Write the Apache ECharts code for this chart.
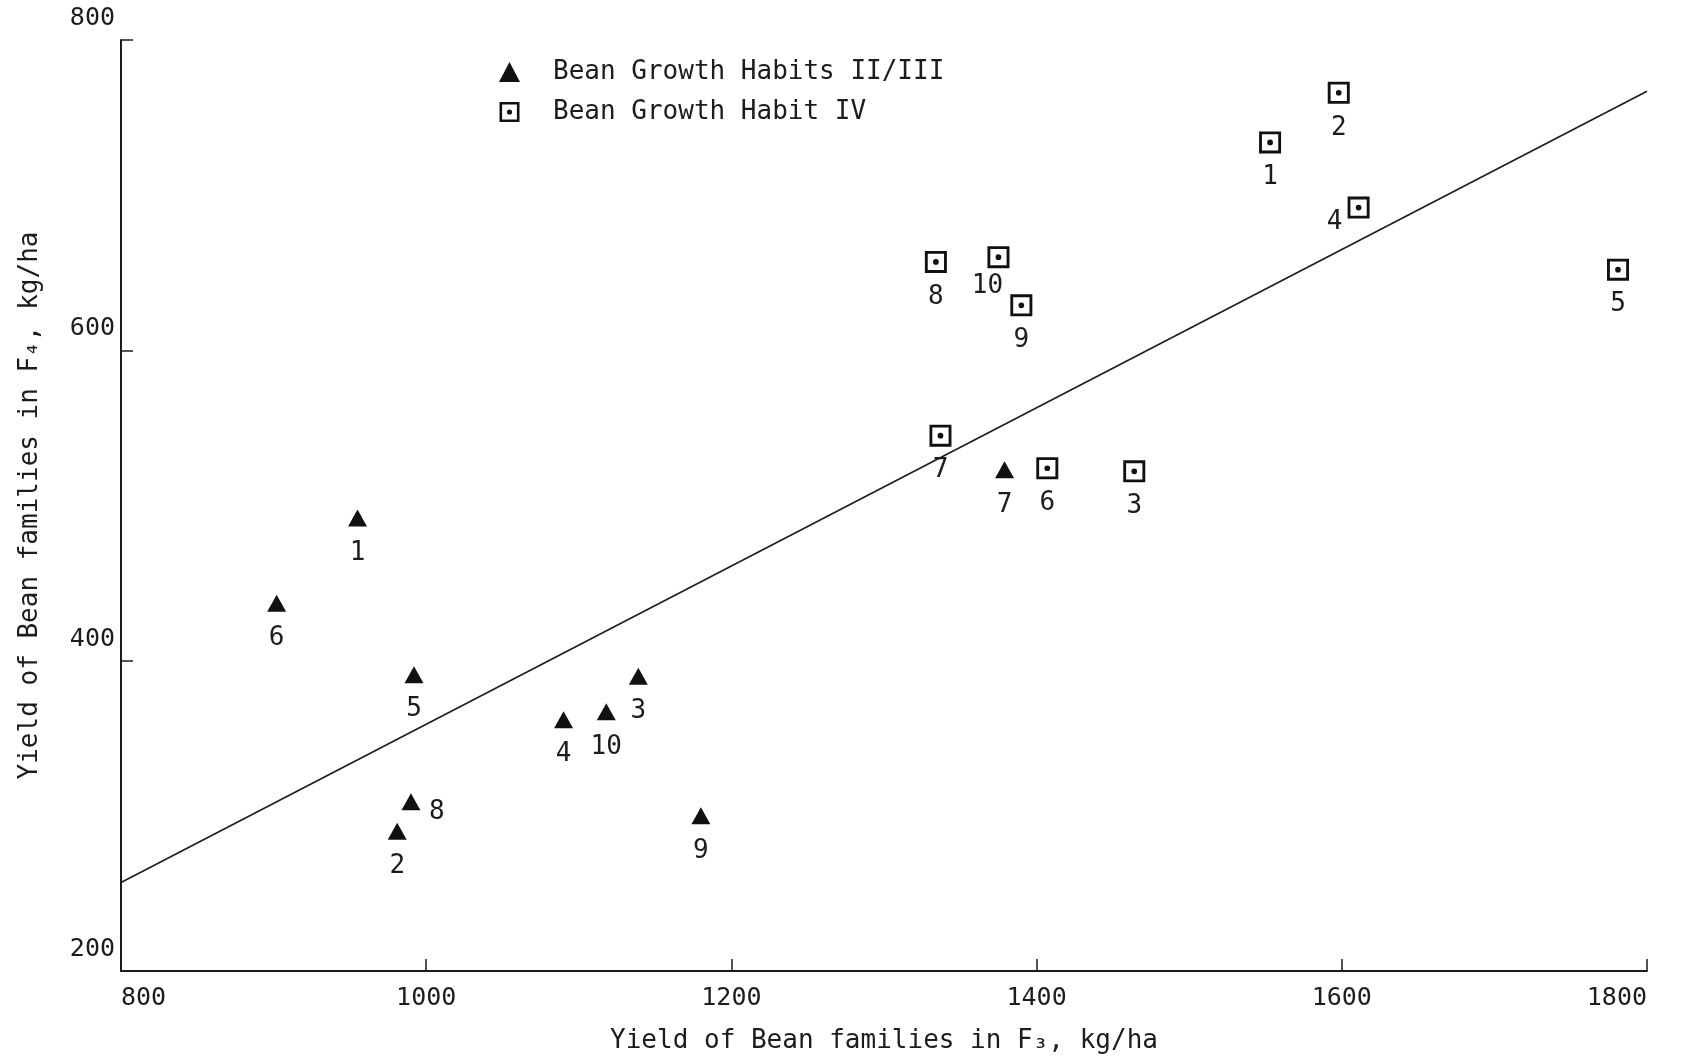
<!DOCTYPE html>
<html>
<head>
<meta charset="utf-8">
<script src="https://cdn.jsdelivr.net/npm/echarts@6/dist/echarts.min.js"></script>
<style>html,body{margin:0;padding:0;background:#fff;}#c{width:1681px;height:1060px;}</style>
</head>
<body>
<div id="c"></div>
<script>
// ---- data ----
const xTicks = [800, 1000, 1200, 1400, 1600, 1800];
const yTicks = [200, 400, 600, 800];

const triLabels = ['1', '2', '3', '4', '5', '6', '7', '8', '9', '10'];
const triX = [955, 981, 1139, 1090, 992, 902, 1379, 990, 1180, 1118];
const triY = [492, 290, 390, 362, 391, 437, 523, 309, 300, 367];

const sqLabels = ['1', '2', '3', '4', '5', '6', '7', '8', '9', '10'];
const sqX = [1553, 1598, 1464, 1611, 1781, 1407, 1337, 1334, 1390, 1375];
const sqY = [734, 766, 522, 692, 652, 524, 545, 657, 629, 660];

const fitX = [800, 1800];
const fitY = [257, 767];

const seriesNames = ['Bean Growth Habits II/III', 'Bean Growth Habit IV'];
const xName = 'Yield of Bean families in F\u2083, kg/ha';
const yName = 'Yield of Bean families in F\u2084, kg/ha';

// ---- label placement (layout only) ----
const defaultOffset = [0, 35];
const triOffsets = { '8': [26, 10] };
const sqOffsets = { '4': [-24, 15], '10': [-11, 29] };

const FONT = '"DejaVu Sans Mono", monospace';
const INK = '#1c1c1c';

function buildPoints(xs, ys, labels, offsets) {
  return xs.map((x, i) => ({
    value: [x, ys[i]],
    name: labels[i],
    label: { offset: offsets[labels[i]] || defaultOffset }
  }));
}

const squareDot = 'path://M0,0H20V20H0Z M2.6,2.6V17.4H17.4V2.6Z M7.4,10a2.6,2.6 0 1,0 5.2,0a2.6,2.6 0 1,0 -5.2,0Z';

const chart = echarts.init(document.getElementById('c'), null, { renderer: 'canvas' });
chart.setOption({
  backgroundColor: '#fff',
  animation: false,
  grid: { left: 121, right: 34, top: 40, bottom: 89 },
  legend: {
    data: seriesNames,
    orient: 'vertical',
    left: 494,
    top: 54,
    itemWidth: 21,
    itemHeight: 20,
    itemGap: 14,
    textStyle: { fontFamily: FONT, fontSize: 26, color: INK, padding: [0, 0, 0, 28] }
  },
  xAxis: {
    type: 'value',
    min: xTicks[0], max: xTicks[xTicks.length - 1], interval: 200,
    name: xName, nameLocation: 'middle', nameGap: 57,
    nameTextStyle: { fontFamily: FONT, fontSize: 26, color: INK },
    axisLine: { lineStyle: { color: INK, width: 2 } },
    axisTick: { inside: true, length: 12, lineStyle: { color: INK, width: 1.5 } },
    splitLine: { show: false },
    axisLabel: { fontFamily: FONT, fontSize: 25, color: INK, margin: 15, alignMinLabel: 'left', alignMaxLabel: 'right',
      formatter: v => String(v) }
  },
  yAxis: {
    type: 'value',
    min: yTicks[0], max: yTicks[yTicks.length - 1], interval: 200,
    name: yName, nameLocation: 'middle', nameRotate: 90, nameGap: 78,
    nameTextStyle: { fontFamily: FONT, fontSize: 26, color: INK },
    axisLine: { lineStyle: { color: INK, width: 2 } },
    axisTick: { inside: true, length: 12, lineStyle: { color: INK, width: 1.5 } },
    splitLine: { show: false },
    axisLabel: { fontFamily: FONT, fontSize: 25, color: INK, margin: 6, verticalAlign: 'bottom', padding: [0, 0, 9, 0],
      formatter: v => String(v) }
  },
  series: [
    {
      type: 'line',
      data: fitX.map((x, i) => [x, fitY[i]]),
      symbol: 'none',
      silent: true,
      lineStyle: { color: INK, width: 1.6 },
      z: 1
    },
    {
      name: seriesNames[0],
      type: 'scatter',
      symbol: 'triangle',
      symbolSize: [19, 17],
      itemStyle: { color: '#111', opacity: 1 },
      data: buildPoints(triX, triY, triLabels, triOffsets),
      label: { show: true, position: 'inside', formatter: '{b}', fontFamily: FONT, fontSize: 26, color: INK },
      z: 3
    },
    {
      name: seriesNames[1],
      type: 'scatter',
      symbol: squareDot,
      symbolSize: 22,
      itemStyle: { color: '#111', opacity: 1 },
      data: buildPoints(sqX, sqY, sqLabels, sqOffsets),
      label: { show: true, position: 'inside', formatter: '{b}', fontFamily: FONT, fontSize: 26, color: INK },
      z: 3
    }
  ]
});
</script>
</body>
</html>
